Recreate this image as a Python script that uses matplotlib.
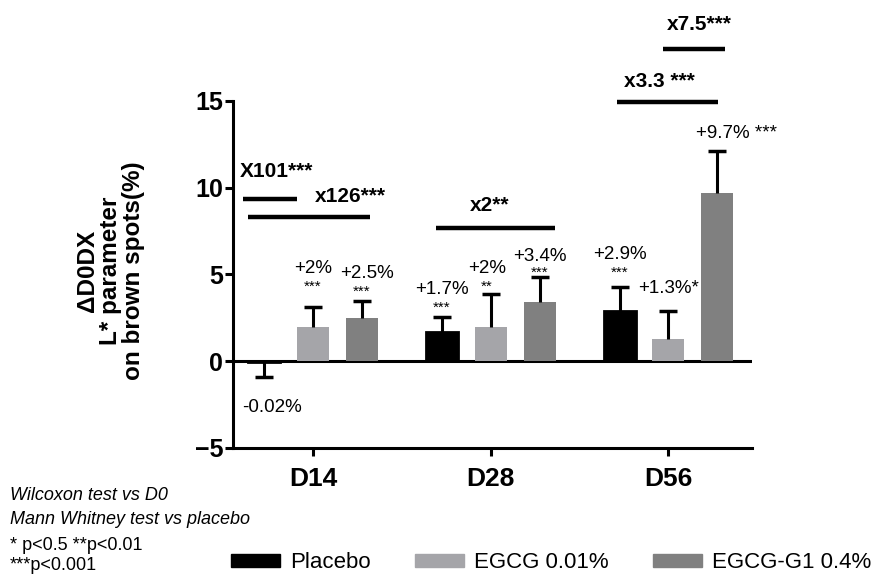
import numpy as np
import matplotlib.pyplot as plt
from matplotlib.patches import Patch

plt.rcParams['font.family'] = ['Liberation Sans', 'DejaVu Sans']

days = ['D14', 'D28', 'D56']
groups = ['Placebo', 'EGCG 0.01%', 'EGCG-G1 0.4%']

placebo = [-0.02, 1.7, 2.9]
egcg = [2.0, 2.0, 1.3]
egcg_g1 = [2.5, 3.4, 9.7]

# one-sided SEM: downward for the negative placebo bar, upward otherwise
placebo_err = [0.88, 0.85, 1.4]
egcg_err = [1.1, 1.9, 1.6]
egcg_g1_err = [1.0, 1.45, 2.4]

placebo_stars = ['', '***', '***']
egcg_stars = ['***', '**', '*']
egcg_g1_stars = ['***', '***', '***']

colors = ['#000000', '#a5a5a9', '#808080']
offsets = [-0.275, 0.0, 0.275]
width = 0.18

# label layout per bar: (x shift, label y, stars y or None if stars inline)
label_layout = [
    [(0.045, -2.65, None), (0.0, 4.15, 3.1), (0.0, 6.17, 5.1)],
    [(0.0, 5.35, 4.3), (-0.02, 5.35, 4.3), (0.0, 4.2, None)],
    [(0.03, 5.07, 4.0), (0.0, 6.05, 5.07), (0.11, 13.1, None)],
]

fig = plt.figure(figsize=(8.95, 5.77), dpi=100)
ax = fig.add_axes([0.2603, 0.2236, 0.5799, 0.6014])

x = np.arange(len(days))
values = [placebo, egcg, egcg_g1]
errors = [placebo_err, egcg_err, egcg_g1_err]
stars = [placebo_stars, egcg_stars, egcg_g1_stars]

ax.axhline(0, color='black', lw=2.2, zorder=1)

for g in range(3):
    xs = x + offsets[g]
    vals = np.array(values[g])
    errs = np.array(errors[g])
    edge = 2.0 if g == 0 else 0
    ax.bar(xs, vals, width, color=colors[g], edgecolor=colors[g],
           linewidth=edge, zorder=2)
    ends = np.where(vals < 0, vals - errs, vals + errs)
    ax.vlines(xs, vals, ends, color='black', lw=2.2, zorder=3)
    ax.plot(xs, ends, ls='none', marker='_', ms=13, mew=2.5,
            color='black', zorder=3)
    for d in range(3):
        v = values[g][d]
        dx, ly, sy = label_layout[g][d]
        txt = f'{v:+g}%'
        if sy is None and stars[g][d]:
            sep = '' if stars[g][d] == '*' else ' '
            txt = txt + sep + stars[g][d]
        ax.text(xs[d] + dx, ly, txt, ha='center', va='center', fontsize=13.5)
        if sy is not None:
            ax.text(xs[d] + (dx if g != 2 else 0), sy, stars[g][d],
                    ha='center', va='center', fontsize=11)

# comparison brackets vs placebo
brackets = [
    (-0.393, -0.09, 9.33, -0.41, 10.95, 'X101***'),
    (-0.365, 0.32, 8.32, 0.01, 9.5, 'x126***'),
    (0.69, 1.36, 7.7, 0.88, 8.95, 'x2**'),
    (1.708, 2.28, 14.95, 1.75, 16.15, 'x3.3 ***'),
    (1.972, 2.32, 18.0, 1.99, 19.4, 'x7.5***'),
]
for x1, x2, y, tx, ty, txt in brackets:
    ax.plot([x1, x2], [y, y], color='black', lw=3.2, clip_on=False,
            solid_capstyle='butt')
    ax.text(tx, ty, txt, ha='left', va='center', fontsize=15,
            fontweight='bold', clip_on=False)

ax.set_xlim(-0.45, 2.47)
ax.set_ylim(-5, 15)
ax.set_yticks([-5, 0, 5, 10, 15])
ax.set_xticks(x)
ax.set_xticklabels(days, fontsize=19, fontweight='bold')
for lab in ax.get_yticklabels():
    lab.set_fontsize(18)
    lab.set_fontweight('bold')

for side in ['top', 'right']:
    ax.spines[side].set_visible(False)
for side in ['left', 'bottom']:
    ax.spines[side].set_linewidth(2.2)
ax.tick_params(axis='both', width=2.2, length=6, color='black')
ax.tick_params(axis='y', pad=1)
ax.tick_params(axis='x', pad=8)

fig.text(111 / 895, 1 - 271 / 577, 'ΔD0DX\nL* parameter\non brown spots(%)',
         rotation=90, ha='center', va='center', fontsize=17.5,
         fontweight='bold', multialignment='center', linespacing=1.0)

handles = [Patch(facecolor=c, edgecolor=c) for c in colors]
fig.legend(handles, groups, loc='center left',
           bbox_to_anchor=(231 / 895, 1 - 563 / 577), ncol=3, frameon=False,
           fontsize=16, handlelength=2.2, handleheight=0.55,
           handletextpad=0.45, columnspacing=2.0, borderpad=0,
           borderaxespad=0)

notes = [
    (495, 'Wilcoxon test vs D0'),
    (519, 'Mann Whitney test vs placebo'),
    (546, '* p<0.5 **p<0.01'),
    (565, '***p<0.001'),
]
for py, txt in notes:
    fig.text(10 / 895, 1 - py / 577, txt, ha='left', va='center',
             fontsize=13, fontstyle='italic' if py < 530 else 'normal')

fig.savefig('out.png', dpi=100)
